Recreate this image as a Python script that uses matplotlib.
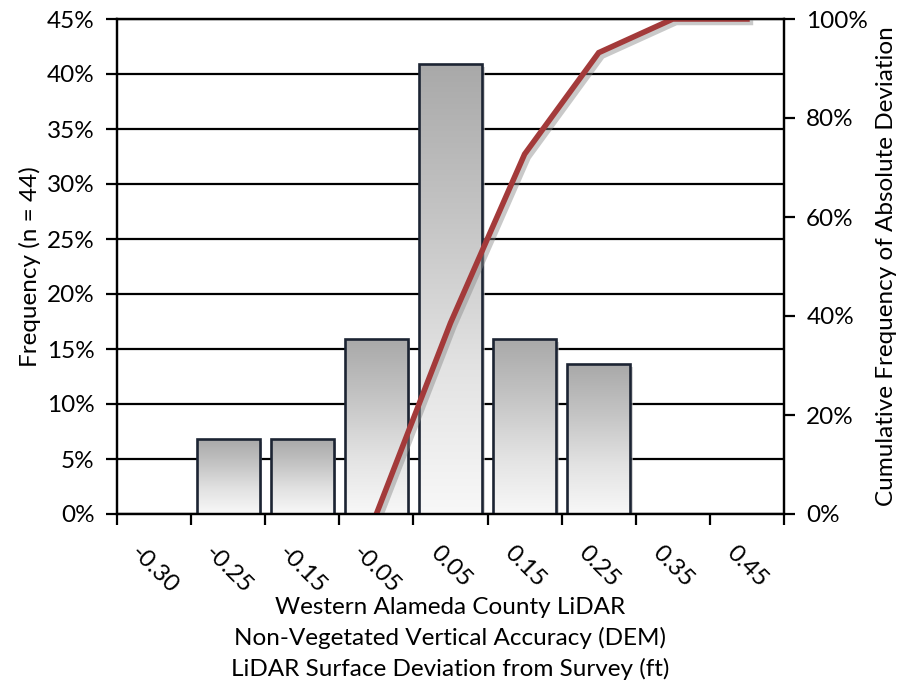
import numpy as np
import matplotlib.pyplot as plt
import matplotlib.patheffects as pe
from matplotlib.colors import LinearSegmentedColormap

plt.rcParams['font.family'] = ['Lato', 'DejaVu Sans']

# bins (ft) and frequency in percent, n = 44
bins = ['-0.30', '-0.25', '-0.15', '-0.05', '0.05', '0.15', '0.25', '0.35', '0.45']
freq = [0.0, 6.8, 6.8, 15.9, 40.9, 15.9, 13.6, 0.0, 0.0]
# cumulative frequency of absolute deviation (%), starts at the -0.05 bin
cum = [np.nan, np.nan, np.nan, 0.0, 38.6, 72.7, 93.2, 100.0, 100.0]

fs = 17.5

fig = plt.figure(figsize=(9.1, 6.9), dpi=100)
ax = fig.add_axes([117 / 910, 1 - 514 / 690, (784 - 117) / 910, (514 - 19) / 690])

x = np.arange(len(bins))
bars = ax.bar(x, freq, width=0.85, facecolor='none', edgecolor='#1c2433',
              linewidth=1.9, zorder=3)

cmap = LinearSegmentedColormap.from_list('g', ['#f8f8f8', '#e2e2e2', '#c4c4c4', '#a9a9a9'])
grad = np.linspace(0, 1, 256).reshape(-1, 1)
for b, h in zip(bars, freq):
    if h <= 0:
        b.set_visible(False)
        continue
    x0 = b.get_x()
    # soft drop shadow behind the bar
    ax.bar(x0 + b.get_width() / 2 + 0.035, h - 0.25, width=b.get_width(), bottom=0,
           color='#bbbbbb', alpha=0.6, zorder=1.5, linewidth=0)
    im = ax.imshow(grad, extent=[x0, x0 + b.get_width(), 0, h], origin='lower',
                   aspect='auto', cmap=cmap, zorder=2)
    im.set_clip_path(b)

ax.set_xlim(-0.5, len(bins) - 0.5)
ax.set_ylim(0, 45)
ax.set_yticks(np.arange(0, 46, 5))
ax.set_yticklabels([f'{v}%' for v in range(0, 46, 5)])
ax.yaxis.grid(True, color='black', linewidth=1.6)
ax.set_axisbelow(True)

ax.set_xticks(np.arange(-0.5, len(bins), 1.0))
ax.set_xticklabels([])
ax.set_xticks(x, minor=True)
ax.set_xticklabels(bins, minor=True, rotation=-45, ha='center', va='top')
ax.tick_params(axis='x', which='minor', length=0, pad=20, labelsize=fs)
ax.tick_params(axis='x', which='major', direction='out', length=8, width=1.6)
ax.tick_params(axis='y', direction='out', length=8, width=1.6, pad=8, labelsize=fs)

for s in ['left', 'bottom', 'top', 'right']:
    ax.spines[s].set_linewidth(1.6)
    ax.spines[s].set_color('black')

ax.set_ylabel('Frequency (n = 44)', fontsize=fs, labelpad=4)
ax.set_xlabel('Western Alameda County LiDAR\nNon-Vegetated Vertical Accuracy (DEM)\n'
              'LiDAR Surface Deviation from Survey (ft)', fontsize=fs,
              linespacing=1.5, labelpad=0)

ax2 = ax.twinx()
ax2.plot(x, cum, color='#a33a3a', linewidth=4, solid_joinstyle='miter',
         path_effects=[pe.SimpleLineShadow(offset=(2.5, -2.5), shadow_color='#888888',
                                           alpha=0.45), pe.Normal()])
ax2.set_ylim(0, 100)
ax2.set_yticks(np.arange(0, 101, 20))
ax2.set_yticklabels([f'{v}%' for v in range(0, 101, 20)])
ax2.tick_params(axis='y', direction='out', length=8, width=1.6, pad=8, labelsize=fs)
for s in ['left', 'bottom', 'top', 'right']:
    ax2.spines[s].set_linewidth(1.6)
ax2.set_ylabel('Cumulative Frequency of Absolute Deviation', fontsize=fs, labelpad=6)

fig.savefig('out.png', dpi=100)
